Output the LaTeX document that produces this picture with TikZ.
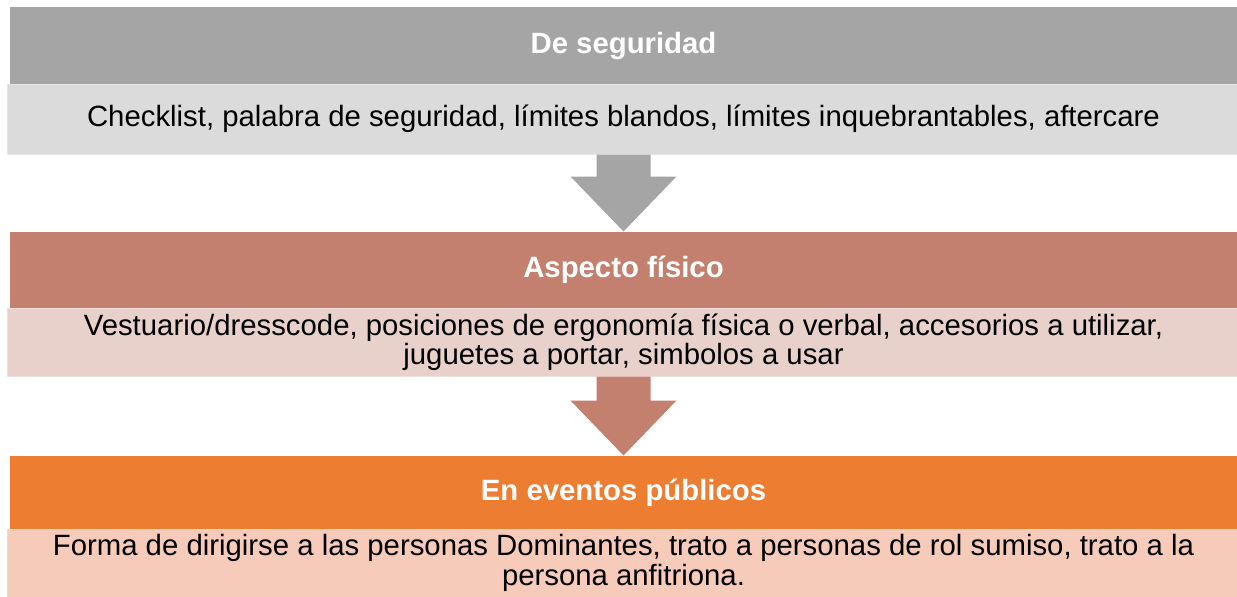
\documentclass[tikz,border=0pt]{standalone}
\usepackage{fontspec}
\setmainfont{Liberation Sans}
\usetikzlibrary{calc}
\tikzset{every picture/.style={line width=0.75pt}}
\tikzset{
  head/.style={inner sep=0pt, minimum width=920.25pt, text=white,
    font=\fontsize{22}{26}\selectfont\bfseries},
  body/.style={inner sep=0pt, minimum width=924.75pt, align=center,
    font=\fontsize{22}{22}\selectfont},
}
% block arrow from the lower edge of one box to the top of the next
\newcommand{\flowarrow}[3]{%
  \fill [#3] ($(#1.south)+(-27,0)$) -- ($(#1.south)+(27,0)$) -- ($(#2.north)+(27,-55)$) -- ($(#2.north)+(53,-55)$) -- (#2.north) -- ($(#2.north)+(-53,-55)$) -- ($(#2.north)+(-27,-55)$) -- cycle ;}

\begin{document}
\begin{tikzpicture}[x=0.75pt,y=0.75pt,yscale=-1,xscale=1]
\useasboundingbox (0,0) rectangle (1237,596);

%Shape: Rect [id:hd1]
\node [head, minimum height=57.75pt, fill={rgb, 255:red, 165; green, 165; blue, 165 }] (hd1) at (623.5,45.5) {De seguridad};
%Shape: Rect [id:bd1]
\node [body, minimum height=52.5pt, fill={rgb, 255:red, 219; green, 219; blue, 219 }, draw={rgb, 255:red, 230; green, 230; blue, 230 }] (bd1) at (623.5,119) {Checklist, palabra de seguridad, límites blandos, límites inquebrantables, aftercare};

%Shape: Rect [id:hd2]
\node [head, minimum height=57pt, fill={rgb, 255:red, 196; green, 128; blue, 111 }] (hd2) at (623.5,270) {Aspecto físico};
%Shape: Rect [id:bd2]
\node [body, minimum height=51pt, fill={rgb, 255:red, 232; green, 208; blue, 203 }, draw={rgb, 255:red, 240; green, 222; blue, 218 }] (bd2) at (623.5,342) {Vestuario/dresscode, posiciones de ergonomía física o verbal, accesorios a utilizar,\\ juguetes a portar, simbolos a usar};

%Shape: Rect [id:hd3]
\node [head, minimum height=54.75pt, fill={rgb, 255:red, 237; green, 125; blue, 49 }] (hd3) at (623.5,492.5) {En eventos públicos};
%Shape: Rect [id:bd3]
\node [body, minimum height=51pt, fill={rgb, 255:red, 247; green, 203; blue, 186 }, draw={rgb, 255:red, 249; green, 214; blue, 200 }] (bd3) at (623.5,563) {Forma de dirigirse a las personas Dominantes, trato a personas de rol sumiso, trato a la\\ persona anfitriona.};

%Block Arrows
\flowarrow{bd1}{hd2}{fill={rgb, 255:red, 165; green, 165; blue, 165 }}
\flowarrow{bd2}{hd3}{fill={rgb, 255:red, 196; green, 128; blue, 111 }}

\end{tikzpicture}
\end{document}
